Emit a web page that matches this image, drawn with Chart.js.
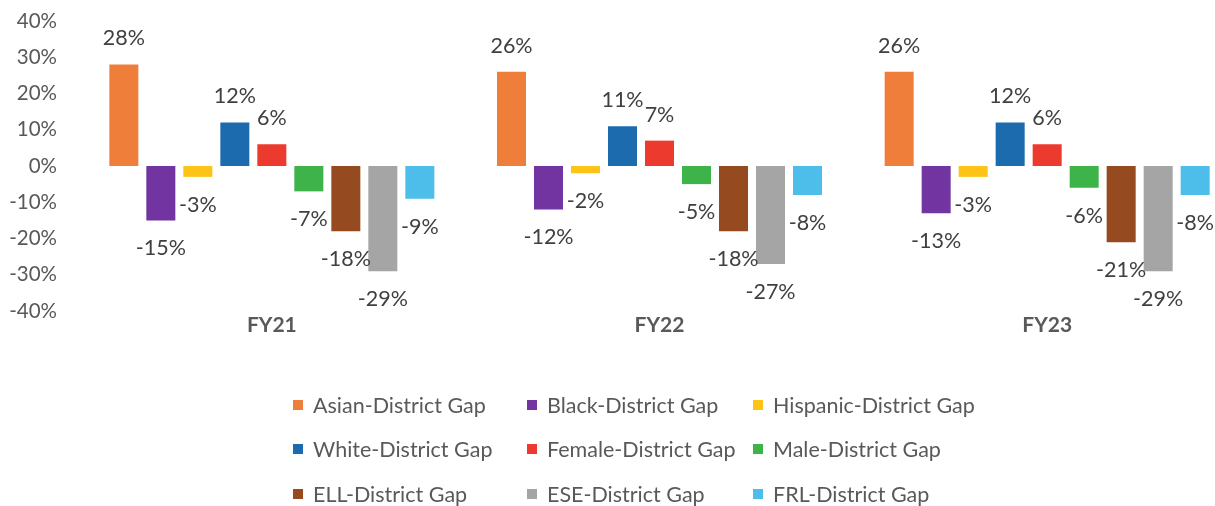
<!DOCTYPE html>
<html>
<head>
<meta charset="utf-8">
<script src="https://cdn.jsdelivr.net/npm/chart.js@4.4.1/dist/chart.umd.min.js"></script>
<style>
    html, body { margin: 0; padding: 0; background: #fff; overflow: hidden; }
    #wrap { width: 1242px; height: 506px; }
</style>
</head>
<body>
<div id="wrap"><canvas id="gapChart" width="1242" height="506"></canvas></div>
<script>
const categories = ['FY21', 'FY22', 'FY23'];
const seriesNames = [
    'Asian-District Gap', 'Black-District Gap', 'Hispanic-District Gap',
    'White-District Gap', 'Female-District Gap', 'Male-District Gap',
    'ELL-District Gap', 'ESE-District Gap', 'FRL-District Gap'
];
const asianGap    = [28, 26, 26];
const blackGap    = [-15, -12, -13];
const hispanicGap = [-3, -2, -3];
const whiteGap    = [12, 11, 12];
const femaleGap   = [6, 7, 6];
const maleGap     = [-7, -5, -6];
const ellGap      = [-18, -18, -21];
const eseGap      = [-29, -27, -29];
const frlGap      = [-9, -8, -8];
const yTicks = [-40, -30, -20, -10, 0, 10, 20, 30, 40];

const seriesValues = [asianGap, blackGap, hispanicGap, whiteGap, femaleGap, maleGap, ellGap, eseGap, frlGap];
const seriesColors = ['#F07E3B', '#7234A0', '#FDC417', '#1D6BAF', '#EC3A2F', '#3DB34A', '#954A20', '#A5A5A5', '#4DBDEA'];

const FONT = 'Lato, "Open Sans", sans-serif';

// labels at the outside end of each bar
const barLabels = {
    id: 'barLabels',
    afterDatasetsDraw(chart) {
        const ctx = chart.ctx;
        ctx.save();
        ctx.font = '21.5px ' + FONT;
        ctx.fillStyle = '#404040';
        ctx.textAlign = 'center';
        ctx.textBaseline = 'middle';
        chart.data.datasets.forEach((ds, i) => {
            const meta = chart.getDatasetMeta(i);
            meta.data.forEach((bar, j) => {
                const v = ds.data[j];
                const y = v >= 0 ? bar.y - 26 : bar.y + 28;
                ctx.fillText(v + '%', bar.x, y);
            });
        });
        ctx.restore();
    }
};

// three-column legend under the chart
const gridLegend = {
    id: 'gridLegend',
    afterDraw(chart) {
        const ctx = chart.ctx;
        const colX = [293, 527, 753];
        const rowY = [405, 449, 494];
        ctx.save();
        ctx.font = '21.5px ' + FONT;
        ctx.textBaseline = 'middle';
        chart.data.datasets.forEach((ds, i) => {
            const x = colX[i % 3];
            const y = rowY[Math.floor(i / 3)];
            ctx.fillStyle = ds.backgroundColor;
            ctx.fillRect(x, y - 5, 10, 10);
            ctx.fillStyle = '#595959';
            ctx.fillText(ds.label, x + 20, y + 1);
        });
        ctx.restore();
    }
};

new Chart(document.getElementById('gapChart'), {
    type: 'bar',
    data: {
        labels: categories,
        datasets: seriesNames.map((name, i) => ({
            label: name,
            data: seriesValues[i],
            backgroundColor: seriesColors[i],
            categoryPercentage: 0.859,
            barPercentage: 0.784
        }))
    },
    options: {
        responsive: false,
        animation: false,
        layout: { padding: { left: 10, right: 1, top: 21, bottom: 167 } },
        plugins: {
            legend: { display: false },
            tooltip: { enabled: false }
        },
        scales: {
            x: {
                grid: { display: false, drawTicks: false },
                border: { display: false },
                ticks: {
                    padding: 2,
                    color: '#595959',
                    font: { family: FONT, size: 21, weight: 'bold' }
                },
                afterFit: (scale) => { scale.height = 28; }
            },
            y: {
                min: -40,
                max: 40,
                afterBuildTicks: (scale) => { scale.ticks = yTicks.map(v => ({ value: v })); },
                // invisible tick marks give the gap between labels and bars
                grid: { display: false, drawTicks: true, tickLength: 21 },
                border: { display: false },
                ticks: {
                    padding: 0,
                    color: '#595959',
                    font: { family: FONT, size: 20.5 },
                    callback: (v) => v + '%'
                },
                afterFit: (scale) => { scale.width = 68; }
            }
        }
    },
    plugins: [barLabels, gridLegend]
});
</script>
</body>
</html>
